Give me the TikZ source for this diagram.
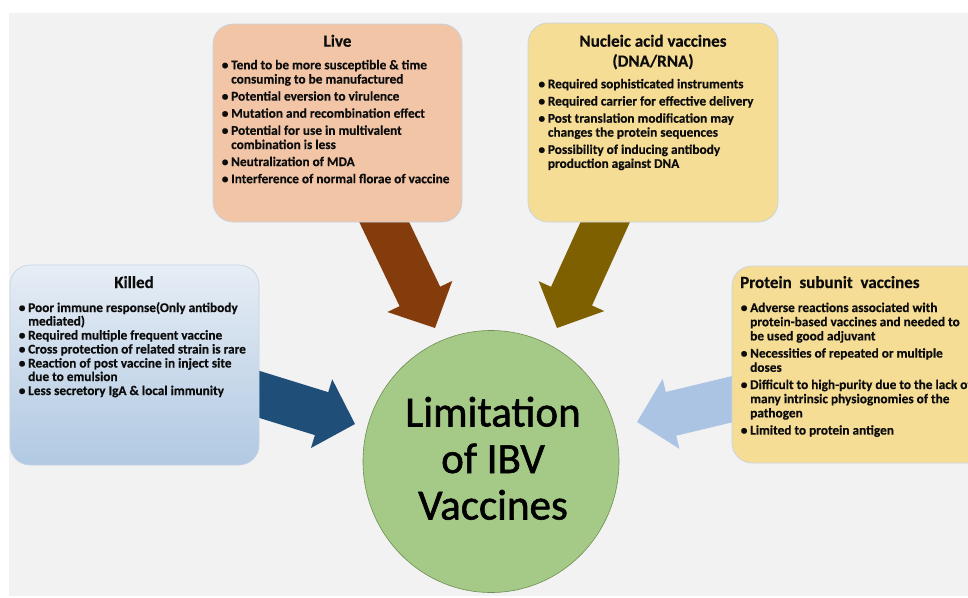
\documentclass[tikz,border=0pt]{standalone}
\usepackage{fontspec}
\setmainfont{Carlito}[BoldFeatures={FakeBold=0.4}]
\newfontfamily\discfont{Carlito}[FakeBold=1.3]
\usetikzlibrary{calc}

\definecolor{pagegray}{HTML}{F2F2F2}
\definecolor{livefill}{HTML}{F1C5A6}
\definecolor{goldfill}{HTML}{F6DD95}
\definecolor{boxedge}{HTML}{C5D3E2}
\definecolor{killtop}{HTML}{E6EDF5}
\definecolor{killbot}{HTML}{B1C9E2}
\definecolor{arrbrown}{HTML}{843C0C}
\definecolor{arrolive}{HTML}{7F6000}
\definecolor{arrnavy}{HTML}{1F4E79}
\definecolor{arrsky}{HTML}{ACC4E4}
\definecolor{circfill}{HTML}{A5C987}
\definecolor{circedge}{HTML}{6E8F52}
\definecolor{inktext}{HTML}{0D0D0D}

% one bulleted entry; the bullet hangs to the left of the text column
\newcommand\bitem[1]{\par\noindent\llap{\textbullet\kern2.8pt}#1}

% block arrow from a tail coordinate to a tip coordinate
% #1 fill colour, #2 tail, #3 tip, #4 name for the base of the head
\newcommand\blockarrow[4]{%
  \coordinate (#4) at ($(#3)!35pt!(#2)$);
  \fill[#1] ($(#2)!22.5pt!90:(#3)$) -- ($(#4)!22.5pt!-90:(#2)$)
    -- ($(#4)!36pt!-90:(#2)$) -- (#3) -- ($(#4)!36pt!90:(#2)$)
    -- ($(#4)!22.5pt!90:(#2)$) -- ($(#2)!22.5pt!-90:(#3)$) -- cycle;
}

\tikzset{
  panel/.style={rounded corners=20pt, draw=boxedge, line width=0.7pt},
  heading/.style={inner sep=0pt, text=inktext, font=\fontsize{17}{20}\selectfont\bfseries},
  listing/.style={inner sep=0pt, anchor=base west, text=inktext},
}

\begin{document}
\begin{tikzpicture}[x=1pt,y=-1pt]
\useasboundingbox (0,0) rectangle (968,597);
\clip (0,0) rectangle (968,597);
\fill[pagegray] (9,13) rectangle (968,596);

% arrows (drawn first so the panels cover their tails)
\coordinate (liveTail) at (376,205);
\coordinate (liveTip) at (435,328);
\coordinate (nucTail) at (613,205);
\coordinate (nucTip) at (557,328);
\coordinate (killTail) at (240,388.4);
\coordinate (killTip) at (355,424);
\coordinate (protTail) at (750,394.9);
\coordinate (protTip) at (637,422);
\blockarrow{arrbrown}{liveTail}{liveTip}{liveHead}
\blockarrow{arrolive}{nucTail}{nucTip}{nucHead}
\blockarrow{arrnavy}{killTail}{killTip}{killHead}
\blockarrow{arrsky}{protTail}{protTip}{protHead}

% panels
\draw[panel, fill=livefill] (213,24) rectangle (462,222);
\draw[panel, fill=goldfill] (528,23) rectangle (778,222);
\draw[panel, top color=killtop, bottom color=killbot] (10,265) rectangle (259,465);
\draw[panel, fill=goldfill] (732,266) rectangle (995,463);

% central disc
\draw[fill=circfill, draw=circedge, line width=0.6pt] (491,461.5) ellipse [x radius=128, y radius=131];
\node[inner sep=0pt, anchor=base, text=black] (centre) at (493,426.5)
  {\begin{minipage}[t]{240pt}\centering\discfont\fontsize{43}{46.5}\selectfont
   Limitation\\of IBV\\Vaccines\end{minipage}};

% Live
\node[heading, anchor=base] (liveHd) at (337.5,46.7) {Live};
\node[listing] (liveList) at (231,69.3) {\begin{minipage}[t]{240pt}
  \fontsize{13.3}{14.2}\selectfont\bfseries\setlength\parskip{2.9pt}
  \bitem{Tend to be more susceptible \& time\newline consuming to be manufactured}
  \bitem{Potential eversion to virulence}
  \bitem{Mutation and recombination effect}
  \bitem{Potential for use in multivalent\newline combination is less}
  \bitem{Neutralization of MDA}
  \bitem{Interference of normal florae of vaccine}
  \end{minipage}};

% Nucleic acid
\node[heading, anchor=base] (nucHd) at (653,46.7)
  {\begin{minipage}[t]{240pt}\centering Nucleic acid vaccines\\(DNA/RNA)\end{minipage}};
\node[listing] (nucList) at (547.7,88.3) {\begin{minipage}[t]{240pt}
  \fontsize{13.3}{14}\selectfont\bfseries\setlength\parskip{3.2pt}
  \bitem{Required sophisticated instruments}
  \bitem{Required carrier for effective delivery}
  \bitem{Post translation modification may\newline changes the protein sequences}
  \bitem{Possibility of inducing antibody\newline production against DNA}
  \end{minipage}};

% Killed
\node[heading, anchor=base] (killHd) at (134,288) {Killed};
\node[listing] (killList) at (28,312) {\begin{minipage}[t]{240pt}
  \fontsize{13.3}{13.5}\selectfont\bfseries\setlength\parskip{0.5pt}
  \bitem{Poor immune response(Only antibody\newline mediated)}
  \bitem{Required multiple frequent vaccine}
  \bitem{Cross protection of related strain\ is rare}
  \bitem{Reaction of post vaccine in inject site\newline due to emulsion}
  \bitem{Less secretory IgA \& local immunity}
  \end{minipage}};

% Protein subunit
\node[heading, anchor=base west] (protHd) at (740,288) {Protein\ \ subunit\ \ vaccines};
\node[listing] (protList) at (750,312) {\begin{minipage}[t]{260pt}
  \fontsize{13.3}{14.2}\selectfont\bfseries\setlength\parskip{3pt}
  \bitem{Adverse reactions associated with\newline protein-based vaccines and needed to\newline be used good adjuvant}
  \bitem{Necessities of repeated or multiple\newline doses}
  \bitem{Difficult to high-purity due to the lack of\newline many intrinsic physiognomies of the\newline pathogen}
  \bitem{Limited to protein antigen}
  \end{minipage}};
\end{tikzpicture}
\end{document}
